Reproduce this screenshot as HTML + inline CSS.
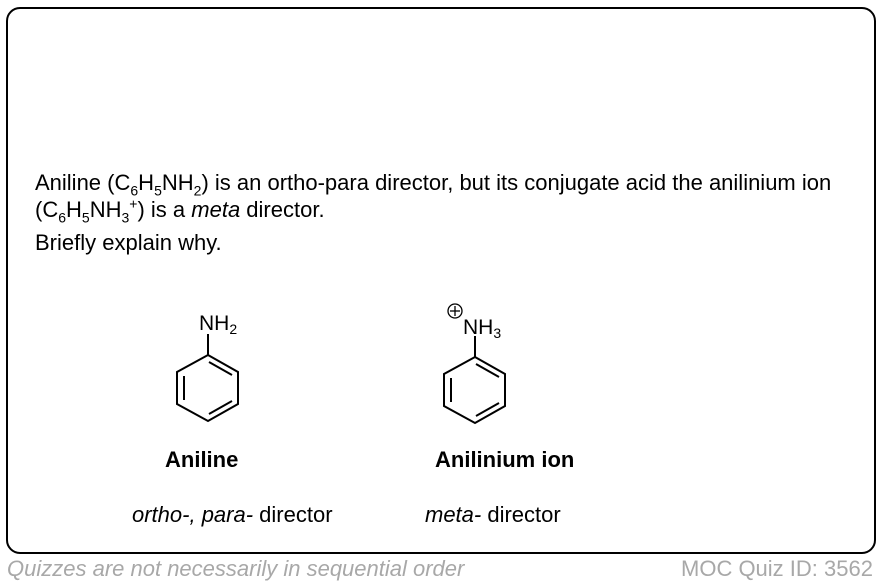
<!DOCTYPE html>
<html><head><style>
body{margin:0;width:882px;height:584px;background:#fff;position:relative;font-family:"Liberation Sans",Arial,sans-serif;overflow:hidden}
.box{position:absolute;left:6px;top:7px;width:866px;height:543px;border:2.5px solid #000;border-radius:14px}
.t{position:absolute;font-size:22px;color:#000;white-space:nowrap;line-height:1}
sub,sup{font-size:14px;line-height:0}
.f{position:absolute;font-size:22px;color:#a8a8a8;white-space:nowrap;line-height:1}
</style></head><body>
<div class="box"></div>
<div class="t" style="left:35px;top:172px">Aniline (C<sub>6</sub>H<sub>5</sub>NH<sub>2</sub>) is an ortho-para director, but its conjugate acid the anilinium ion</div>
<div class="t" style="left:35px;top:199px">(C<sub>6</sub>H<sub>5</sub>NH<sub>3</sub><sup>+</sup>) is a <i>meta</i> director.</div>
<div class="t" style="left:35px;top:232px">Briefly explain why.</div>
<svg style="position:absolute;left:0;top:0" width="882" height="584">
<g stroke="#000" stroke-width="2" fill="none">
<polygon points="208,355 238,372 238,404 208,421 177,404 177,372"/>
<line x1="208" y1="355" x2="208" y2="334"/>
<line x1="209" y1="362" x2="232" y2="375"/>
<line x1="184" y1="376" x2="184" y2="400"/>
<line x1="209" y1="414" x2="232" y2="401"/>
<polygon points="475,357 505,374 505,406 475,423 444,406 444,374"/>
<line x1="475" y1="357" x2="475" y2="336"/>
<line x1="476" y1="364" x2="499" y2="377"/>
<line x1="451" y1="378" x2="451" y2="402"/>
<line x1="476" y1="416" x2="499" y2="403"/>
<circle cx="455" cy="311" r="7" stroke-width="1.3"/>
<line x1="450" y1="311" x2="460" y2="311" stroke-width="1.3"/>
<line x1="455" y1="306" x2="455" y2="316" stroke-width="1.3"/>
</g>
<text x="199" y="330" font-family="Liberation Sans" font-size="21">NH<tspan font-size="14" dy="4">2</tspan></text>
<text x="463" y="334" font-family="Liberation Sans" font-size="21">NH<tspan font-size="14" dy="4">3</tspan></text>
</svg>
<div class="t" style="left:165px;top:449px;font-weight:bold">Aniline</div>
<div class="t" style="left:435px;top:449px;font-weight:bold">Anilinium ion</div>
<div class="t" style="left:132px;top:504px"><i>ortho-, para-</i> director</div>
<div class="t" style="left:425px;top:504px"><i>meta-</i> director</div>
<div class="f" style="left:7px;top:558px;font-style:italic">Quizzes are not necessarily in sequential order</div>
<div class="f" style="left:681px;top:558px">MOC Quiz ID: 3562</div>
</body></html>
